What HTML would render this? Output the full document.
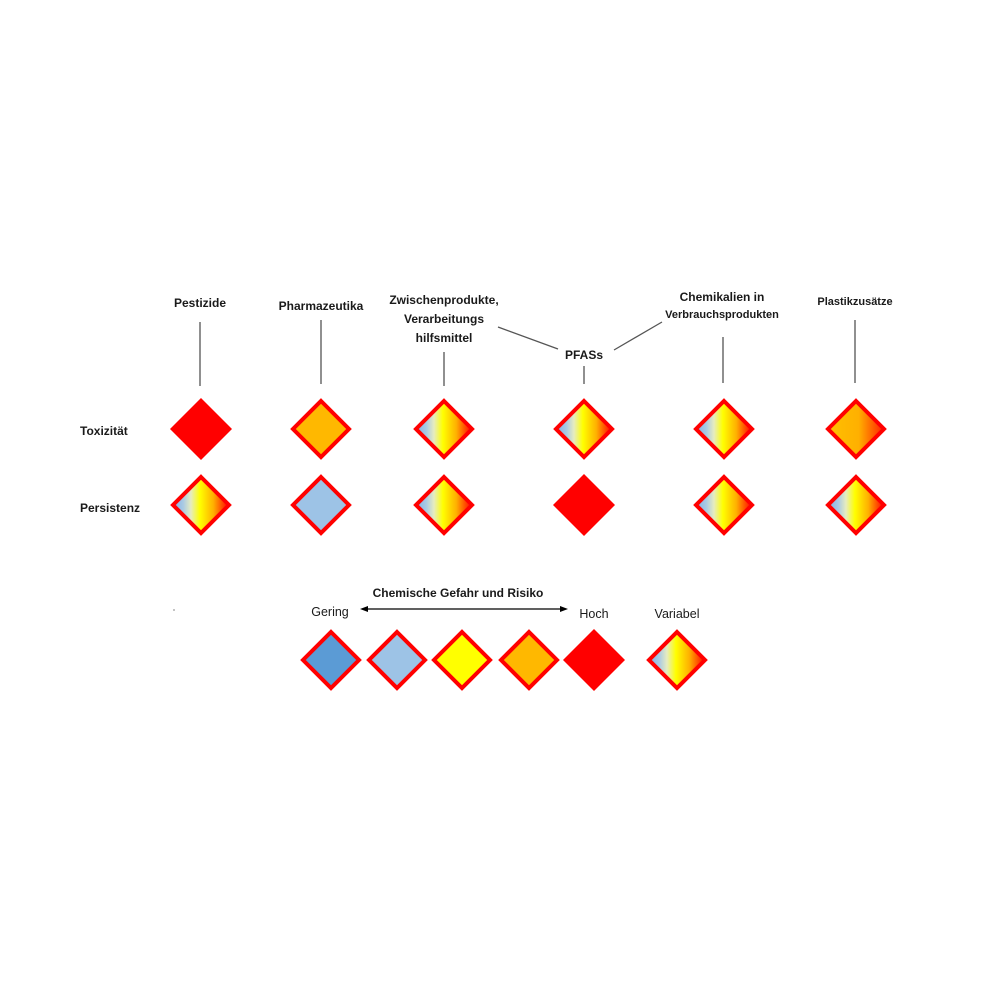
<!DOCTYPE html>
<html><head><meta charset="utf-8"><style>
html,body{margin:0;padding:0;background:#fff;}
svg{display:block;}
text{font-family:"Liberation Sans","DejaVu Sans",sans-serif;fill:#1a1a1a;}
.b{font-weight:bold;font-size:12px;}
.n{font-size:12.5px;fill:#333;}
</style></head><body>
<svg width="1008" height="1006" viewBox="0 0 1008 1006" xmlns="http://www.w3.org/2000/svg">
<defs>
<linearGradient id="g" x1="0" x2="1" y1="0" y2="0">
<stop offset="0" stop-color="#80b0e8"/>
<stop offset="0.18" stop-color="#a9c9e4"/>
<stop offset="0.32" stop-color="#e6ecc0"/>
<stop offset="0.48" stop-color="#ffff00"/>
<stop offset="0.72" stop-color="#ffb000"/>
<stop offset="1" stop-color="#ff0000"/>
</linearGradient>
<linearGradient id="g2" x1="0" x2="1"><stop offset="0" stop-color="#ffc000"/><stop offset="0.55" stop-color="#ffb000"/><stop offset="1" stop-color="#ff2000"/></linearGradient>
<path id="d" d="M0,-28 L28,0 L0,28 L-28,0 Z"/>
<path id="df" d="M0,-31 L31,0 L0,31 L-31,0 Z"/>
</defs>
<g stroke="#555" stroke-width="1.3">
<line x1="200" y1="322" x2="200" y2="386"/>
<line x1="321" y1="320" x2="321" y2="384"/>
<line x1="444" y1="352" x2="444" y2="386"/>
<line x1="584" y1="366" x2="584" y2="384"/>
<line x1="723" y1="337" x2="723" y2="383"/>
<line x1="855" y1="320" x2="855" y2="383"/>
<line x1="498" y1="327" x2="558" y2="349"/>
<line x1="614" y1="350" x2="662" y2="322"/>
</g>
<g class="b" text-anchor="middle">
<text x="200" y="307">Pestizide</text>
<text x="321" y="310">Pharmazeutika</text>
<text x="444" y="304">Zwischenprodukte,</text>
<text x="444" y="323">Verarbeitungs</text>
<text x="444" y="342">hilfsmittel</text>
<text x="584" y="359">PFASs</text>
<text x="722" y="301">Chemikalien in</text>
<text x="722" y="318" style="font-size:11px">Verbrauchsprodukten</text>
<text x="855" y="305" style="font-size:11px">Plastikzusätze</text>
<text x="80" y="435" text-anchor="start">Toxizität</text>
<text x="80" y="512" text-anchor="start">Persistenz</text>
<text x="458" y="597">Chemische Gefahr und Risiko</text>
</g>
<g class="n" text-anchor="middle">
<text x="330" y="616">Gering</text>
<text x="594" y="618">Hoch</text>
<text x="677" y="618">Variabel</text>
</g>
<line x1="366" y1="609" x2="562" y2="609" stroke="#000" stroke-width="1.2"/>
<path d="M360,609 L368,606 L368,612 Z" fill="#000"/>
<path d="M568,609 L560,606 L560,612 Z" fill="#000"/>
<circle cx="174" cy="610" r="0.6" fill="#333"/>
<g stroke="#ff0000" stroke-width="4" stroke-linejoin="miter">
<use href="#df" x="201" y="429" fill="#ff0000" stroke="none"/>
<use href="#d" x="321" y="429" fill="#ffb800"/>
<use href="#d" x="444" y="429" fill="url(#g)"/>
<use href="#d" x="584" y="429" fill="url(#g)"/>
<use href="#d" x="724" y="429" fill="url(#g)"/>
<use href="#d" x="856" y="429" fill="url(#g2)"/>
<use href="#d" x="201" y="505" fill="url(#g)"/>
<use href="#d" x="321" y="505" fill="#9dc3e6"/>
<use href="#d" x="444" y="505" fill="url(#g)"/>
<use href="#df" x="584" y="505" fill="#ff0000" stroke="none"/>
<use href="#d" x="724" y="505" fill="url(#g)"/>
<use href="#d" x="856" y="505" fill="url(#g)"/>
<use href="#d" x="331" y="660" fill="#5b9bd5"/>
<use href="#d" x="397" y="660" fill="#9dc3e6"/>
<use href="#d" x="462" y="660" fill="#ffff00"/>
<use href="#d" x="529" y="660" fill="#ffb800"/>
<use href="#df" x="594" y="660" fill="#ff0000" stroke="none"/>
<use href="#d" x="677" y="660" fill="url(#g)"/>
</g>
</svg>
</body></html>
